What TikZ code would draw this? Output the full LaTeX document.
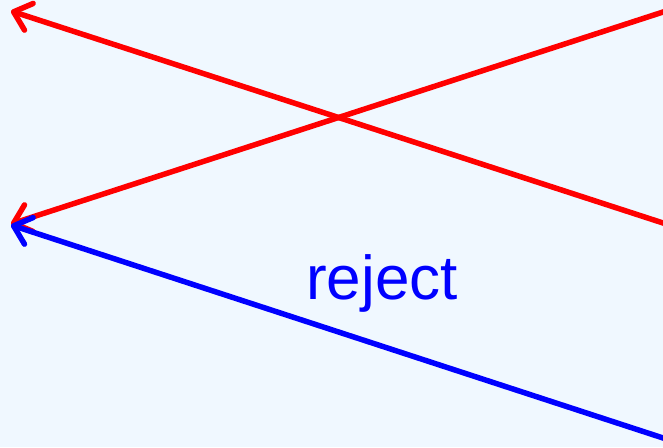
\documentclass[tikz,border=0pt]{standalone}
\usepackage{fontspec}
\setmainfont{Liberation Sans}
\usetikzlibrary{arrows.meta}
\definecolor{bgcol}{RGB}{240,248,255}
\definecolor{redc}{RGB}{255,0,0}
\definecolor{bluec}{RGB}{0,0,255}
\begin{document}
\begin{tikzpicture}[x=1pt,y=-1pt,
  conn/.style={line width=5.5pt,-{Straight Barb[length=16pt,width=28pt,round]}}]
\fill[bgcol] (0,0) rectangle (663,447);
\useasboundingbox (0,0) rectangle (663,447);
\clip (0,0) rectangle (663,447);
\coordinate (r1s) at (668,224.6);
\coordinate (r1e) at (11,11);
\coordinate (r2s) at (668,10.4);
\coordinate (r2e) at (11,224);
\coordinate (bs) at (668,439.6);
\coordinate (be) at (11,225);
\draw[conn,redc] (r1s) -- (r1e);
\draw[conn,redc] (r2s) -- (r2e);
\draw[conn,bluec] (bs) -- (be);
\node[text=bluec,font=\fontsize{62}{68}\selectfont,inner sep=0pt,anchor=base] (lbl) at (382,299) {reject};
\end{tikzpicture}
\end{document}
